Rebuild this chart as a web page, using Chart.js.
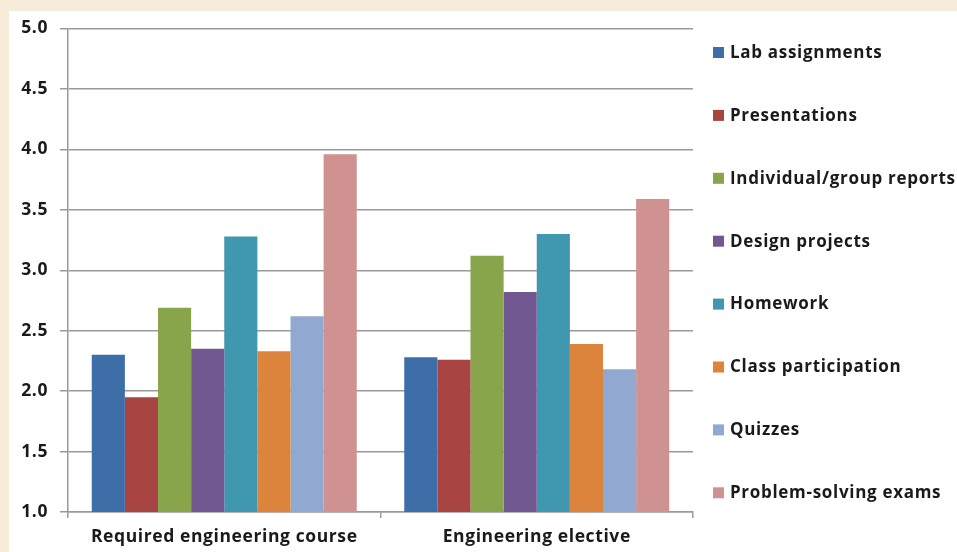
<!DOCTYPE html>
<html>
<head>
<meta charset="utf-8">
<script src="https://cdn.jsdelivr.net/npm/chart.js@4.4.0/dist/chart.umd.min.js"></script>
<style>
  html, body { margin: 0; padding: 0; background: #f6ecd9; }
  #panel { position: absolute; left: 9px; top: 11px; width: 948px; height: 541px; background: #fff; overflow: hidden; }
  canvas { display: block; margin-top: -5px; }
</style>
</head>
<body>
<div id="panel"><canvas id="chart" width="948" height="546"></canvas></div>
<script>
const categories = ['Required engineering course', 'Engineering elective']
const series_names = ['Lab assignments', 'Presentations', 'Individual/group reports', 'Design projects',
  'Homework', 'Class participation', 'Quizzes', 'Problem-solving exams']
const series_colors = ['#3e6ea7', '#a84442', '#88a54c', '#715891', '#3f97b0', '#dc843c', '#91a9d0', '#d09191']
const lab_assignments = [2.30, 2.28]
const presentations = [1.95, 2.26]
const group_reports = [2.69, 3.12]
const design_projects = [2.35, 2.82]
const homework = [3.28, 3.30]
const class_participation = [2.33, 2.39]
const quizzes = [2.62, 2.18]
const problem_exams = [3.96, 3.59]
const y_ticks = [1.0, 1.5, 2.0, 2.5, 3.0, 3.5, 4.0, 4.5, 5.0]

const all_values = [lab_assignments, presentations, group_reports, design_projects,
  homework, class_participation, quizzes, problem_exams]

const font_family = '"Open Sans", Lato, sans-serif'

// a bit of tracking on all text, like the original
const spacing = {
  id: 'spacing',
  beforeDraw(chart) { chart.ctx.letterSpacing = '0.6px' }
}

// legend drawn on the right side, one item per dataset
const sideLegend = {
  id: 'sideLegend',
  afterDraw(chart) {
    const ctx = chart.ctx
    const x = chart.chartArea.right + 20
    ctx.save()
    ctx.font = 'bold 17px ' + font_family
    ctx.letterSpacing = '0.7px'
    ctx.textBaseline = 'middle'
    chart.data.datasets.forEach((ds, i) => {
      const y = 46 + i * 62.9
      ctx.fillStyle = ds.backgroundColor
      ctx.fillRect(x, y - 5, 11, 11)
      ctx.fillStyle = '#1a1a1a'
      ctx.fillText(ds.label, x + 17, y + 1)
    })
    ctx.restore()
  }
}

new Chart(document.getElementById('chart'), {
  type: 'bar',
  data: {
    labels: categories,
    datasets: series_names.map((name, i) => ({
      label: name,
      data: all_values[i],
      backgroundColor: series_colors[i],
      borderWidth: 0,
      categoryPercentage: 0.848,
      barPercentage: 1.0,
    }))
  },
  options: {
    responsive: false,
    animation: false,
    layout: { padding: { top: 12, right: 264, left: 0, bottom: 0 } },
    plugins: {
      legend: { display: false },
      tooltip: { enabled: false },
    },
    scales: {
      x: {
        offset: true,
        grid: {
          offset: true,
          drawOnChartArea: false,
          drawTicks: true,
          tickLength: 6,
          color: '#9a9a9a',
          lineWidth: 1.5,
        },
        border: { color: '#9a9a9a', width: 1.5 },
        ticks: {
          color: '#1a1a1a',
          font: { family: font_family, size: 17.5, weight: 'bold' },
          padding: 9,
          maxRotation: 0,
        },
        afterFit: scale => { scale.height = 40 },
      },
      y: {
        min: 1,
        max: 5,
        afterBuildTicks: scale => { scale.ticks = y_ticks.map(v => ({ value: v })) },
        grid: {
          color: '#9a9a9a',
          lineWidth: 1.5,
          tickLength: 8,
        },
        border: { color: '#9a9a9a', width: 1.5 },
        ticks: {
          color: '#1a1a1a',
          font: { family: font_family, size: 17.5, weight: 'bold' },
          padding: 12,
          callback: v => v.toFixed(1),
        },
        afterFit: scale => { scale.width = 59 },
      },
    },
  },
  plugins: [spacing, sideLegend],
})
</script>
</body>
</html>
